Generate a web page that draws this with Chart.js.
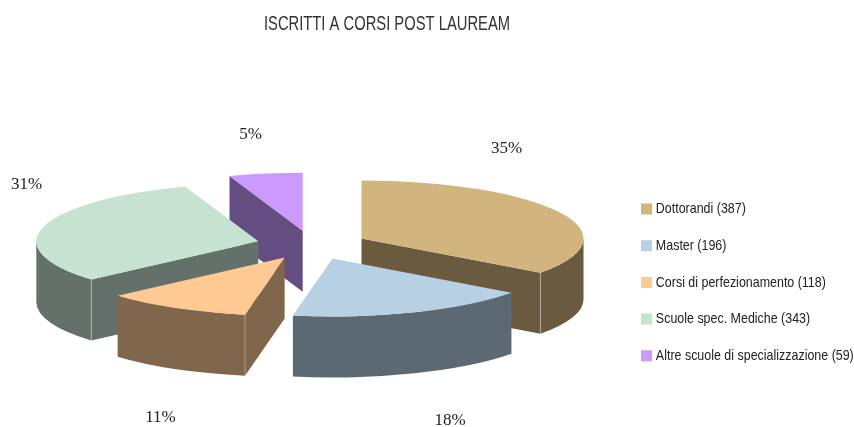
<!DOCTYPE html>
<html>
<head>
<meta charset="utf-8">
<style>
html,body{margin:0;padding:0;background:#fff;}
#wrap{width:854px;height:427px;position:relative;}
</style>
<script src="https://cdn.jsdelivr.net/npm/chart.js@4/dist/chart.umd.min.js"></script>
</head>
<body>
<div id="wrap"><canvas id="c" width="854" height="427"></canvas></div>
<script>
const chartTitle = 'ISCRITTI A CORSI POST LAUREAM';
const categories = ['Dottorandi','Master','Corsi di perfezionamento','Scuole spec. Mediche','Altre scuole di specializzazione'];
const values = [387,196,118,343,59];
const sliceColors = ['#d2b47e','#b8d0e4','#ffc994','#c6e3d2','#cc99ff'];
const wallColors = ['#6a5a40','#5c6872','#80664b','#63716a','#644d80'];

const SANS = '"Liberation Sans",sans-serif';
const view = {cx:312, cy:245, rx:222, ry:58, depth:61, explode:0.25};
const labelShift = [[194.5,-96],[138,176],[-151.5,173],[-285.5,-60],[-61.5,-110]];
const legendBox = {originX:641, x:644, y:201.5, squeeze:0.83};
const titleBox = {cx:387, squeeze:0.703};

const total = values.reduce((a,b)=>a+b,0);

function squeezeDraw(box, fromX, toX, k){
  const orig = box.draw.bind(box);
  box.draw = function(area){
    const ctx = box.ctx;
    ctx.save();
    ctx.translate(toX(),0);
    ctx.scale(k,1);
    ctx.translate(-fromX(),0);
    orig(area);
    ctx.restore();
  };
}

const pie3d = {
  id:'pie3d',
  afterInit(chart){
    squeezeDraw(chart.legend, ()=>legendBox.originX, ()=>legendBox.originX, legendBox.squeeze);
    squeezeDraw(chart.titleBlock, ()=>chart.width/2, ()=>titleBox.cx, titleBox.squeeze);
  },
  afterLayout(chart){
    const lg = chart.legend, pad = chart.options.plugins.legend.labels.padding;
    lg.left = legendBox.x-pad; lg.right = lg.left+420;
    lg.top = legendBox.y-pad; lg.bottom = lg.top+300;
  },
  beforeDatasetDraw(chart){
    const ctx = chart.ctx, arcs = chart.getDatasetMeta(0).data;
    const R = arcs[0].outerRadius;
    const sx = view.rx/R, sy = view.ry/R;
    const centre = arc=>{
      const mid = (arc.startAngle+arc.endAngle)/2;
      return {x:view.cx+Math.cos(mid)*view.explode*view.rx, y:view.cy+Math.sin(mid)*view.explode*view.ry};
    };
    const order = arcs.map((a,i)=>i).sort((i,j)=>{
      const s=a=>Math.sin((a.startAngle+a.endAngle)/2);
      return s(arcs[i])-s(arcs[j]);
    });
    order.forEach(i=>{
      const arc = arcs[i], a0 = arc.startAngle, a1 = arc.endAngle, o = centre(arc);
      const rim = a=>({x:o.x+Math.cos(a)*view.rx, y:o.y+Math.sin(a)*view.ry});
      const p0 = rim(a0), p1 = rim(a1);
      ctx.save();
      ctx.fillStyle = wallColors[i];
      // only the radial faces turned towards the viewer
      const faces = [];
      if(Math.cos(a0)<-1e-6) faces.push(p0);
      if(Math.cos(a1)>1e-6) faces.push(p1);
      faces.forEach(p=>{
        ctx.beginPath();
        ctx.moveTo(o.x,o.y);
        ctx.lineTo(p.x,p.y);
        ctx.lineTo(p.x,p.y+view.depth);
        ctx.lineTo(o.x,o.y+view.depth);
        ctx.closePath();
        ctx.fill();
      });
      // only the front half of the rim shows a wall
      const f0 = Math.max(a0,0), f1 = Math.min(a1,Math.PI);
      if(f1>f0){
        ctx.beginPath();
        ctx.ellipse(o.x,o.y,view.rx,view.ry,0,f0,f1,false);
        ctx.ellipse(o.x,o.y+view.depth,view.rx,view.ry,0,f1,f0,true);
        ctx.closePath();
        ctx.fill();
      }
      ctx.strokeStyle = 'rgba(255,255,255,0.35)';
      ctx.lineWidth = 1;
      const seam = [];
      if(Math.cos(a0)<0 && Math.sin(a0)>0) seam.push(p0);
      if(Math.cos(a1)>0 && Math.sin(a1)>0) seam.push(p1);
      seam.forEach(p=>{
        ctx.beginPath();
        ctx.moveTo(p.x,p.y);
        ctx.lineTo(p.x,p.y+view.depth);
        ctx.stroke();
      });
      ctx.restore();
    });
    arcs.forEach(arc=>{
      const o = centre(arc);
      ctx.save();
      ctx.translate(o.x,o.y);
      ctx.scale(sx,sy);
      ctx.translate(-arc.x,-arc.y);
      arc.draw(ctx,chart.chartArea);
      ctx.restore();
    });
    return false;
  },
  afterDatasetsDraw(chart){
    const ctx = chart.ctx;
    ctx.save();
    ctx.fillStyle = '#222';
    ctx.font = '17px "Liberation Serif","Times New Roman",serif';
    ctx.textAlign = 'center';
    ctx.textBaseline = 'middle';
    values.forEach((v,i)=>{
      ctx.fillText(Math.round(v/total*100)+'%', view.cx+labelShift[i][0], view.cy+labelShift[i][1]);
    });
    ctx.restore();
  }
};

new Chart(document.getElementById('c'),{
  type:'pie',
  data:{
    labels:categories.map((c,i)=>c+' ('+values[i]+')'),
    datasets:[{
      data:values,
      backgroundColor:sliceColors,
      borderWidth:0,
      clip:false
    }]
  },
  plugins:[pie3d],
  options:{
    responsive:false,
    animation:false,
    plugins:{
      tooltip:{enabled:false},
      title:{
        display:true,
        text:chartTitle,
        color:'#333',
        font:{family:SANS,size:21,weight:'normal'},
        padding:{top:12,bottom:22}
      },
      legend:{
        position:'right',
        align:'start',
        labels:{
          boxWidth:7.4,
          boxHeight:5,
          padding:21.7,
          color:'#222',
          font:{family:SANS,size:15},
          generateLabels(chart){
            return Chart.overrides.pie.plugins.legend.labels.generateLabels(chart).map(it=>{
              it.strokeStyle = it.fillStyle;
              it.lineWidth = 6;
              return it;
            });
          }
        }
      }
    }
  }
});
</script>
</body>
</html>
